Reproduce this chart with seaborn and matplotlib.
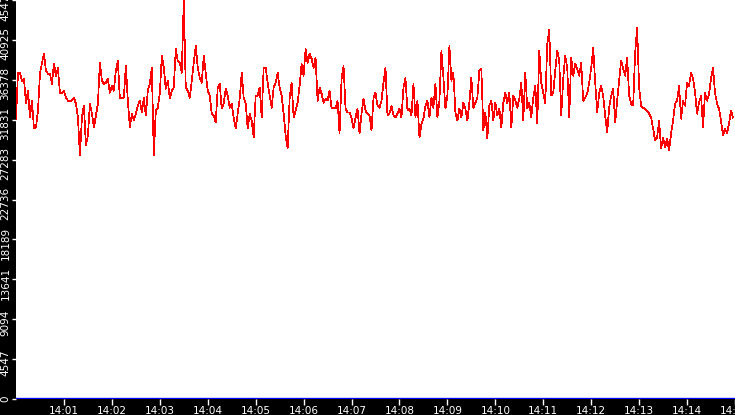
import numpy as np
import pandas as pd
import seaborn as sns
import matplotlib
matplotlib.use('Agg')
import matplotlib.pyplot as plt
import matplotlib.transforms as mtransforms

# samples every 2.5 s from 14:00:00
rate = [
    # 14:00 - 14:02:30
    31950, 37180, 37180, 36270, 36500, 33660, 35140, 32070, 34000, 30820,
    30930, 32860, 37070, 38320, 39340, 37410, 37070, 37070, 35930, 38210,
    36840, 37750, 34800, 34910, 35140, 34340, 34000, 34000, 34000, 34340,
    33660, 32070, 27750, 32070, 33430, 28880, 30020, 33660, 32520, 30930,
    32300, 33660, 38320, 36270, 35930, 36050, 36500, 34910, 35700, 35140,
    37410, 38550, 34230, 34340, 34340, 37980, 34000, 30930, 32520, 31730,
    32520, 33430,
    # 14:02:35 - 14:05:05
    34000, 32640, 34340, 32300, 35140, 35930, 37750, 27750, 32860, 33200,
    34800, 39120, 37750, 35360, 36270, 34230, 35140, 35480, 39910, 38550,
    38320, 37180, 45473, 35480, 35140, 34340, 36270, 38320, 40250, 37750,
    36610, 36050, 39120, 37180, 35140, 34570, 32520, 32300, 31500, 35480,
    35930, 33090, 33660, 35360, 34570, 33200, 33660, 32070, 30820, 32520,
    34230, 37180, 34340, 33660, 30820, 32520, 31730, 29790, 34570, 34570,
    35480, 32070, 37750,
    # 14:05:07 - 14:07:37
    37750, 36050, 34570, 33200, 35480, 36050, 37180, 35480, 34570, 32520,
    30020, 28540, 34230, 36050, 32070, 32860, 33770, 35700, 38210, 36840,
    39910, 38320, 39340, 38780, 37750, 38890, 34000, 35480, 34800, 33770,
    34230, 34000, 35140, 33090, 33200, 33090, 34000, 30250, 36500, 37980,
    33090, 32640, 32640, 32070, 30820, 32070, 33090, 30250, 32520, 34230,
    32860, 32520, 32300, 30590, 34340, 34910, 33430, 33200, 34000, 36050,
    37750,
    # 14:07:40 - 14:10:12
    32300, 32520, 33430, 32300, 32070, 32520, 33090, 32070, 35480, 36610,
    32860, 33090, 32300, 35930, 32070, 34000, 29790, 31390, 31950, 33430,
    34000, 32070, 34340, 33200, 35930, 32070, 34000, 39690, 36610, 33090,
    34570, 40250, 36270, 37180, 32640, 31730, 33090, 32070, 33770, 33090,
    31730, 33770, 36610, 33200, 33770, 34340, 37410, 37640, 30590, 32640,
    29680, 33430, 34000, 31730, 33770, 32300, 33090, 30930, 33770, 34910,
    33660, 34910,
    # 14:10:15 - 14:12:52
    30930, 34570, 34000, 33200, 34230, 36050, 31730, 37180, 33090, 33770,
    32070, 34340, 35700, 31390, 39690, 36050, 34910, 33660, 40480, 42070,
    34570, 34910, 37410, 39690, 38550, 32300, 36500, 39120, 37750, 32070,
    38890, 36840, 38210, 37640, 36840, 38320, 34000, 34340, 34800, 36050,
    37750, 40030, 36050, 32640, 34910, 35700, 34570, 32300, 30360, 33200,
    34570, 35360, 31500, 34000, 36270, 38550, 37640, 36840, 38890, 34570,
    33660, 33430, 39460, 42300,
    # 14:12:55 - 14:14:57
    35480, 33430, 33200, 33090, 32860, 32520, 32070, 30820, 29450, 29790,
    31730, 28540, 29790, 28660, 29680, 28320, 30250, 31730, 33660, 34000,
    35700, 31950, 34000, 33430, 36050, 35700, 37180, 36500, 34910, 32520,
    33770, 34570, 30930, 34910, 34000, 34800, 36500, 37750, 34910, 33660,
    33090, 31730, 30020, 30820, 30250, 31390, 32860, 32070,
]
baseline = [0] * len(rate)

y_ticks = [0, 4547, 9094, 13641, 18189, 22736, 27283, 31831, 36378, 40925, 45473]
y_labels = ['0', '4547', '9094', '13641', '18189', '22736', '27283',
            '31831', '36378', '40925', '45473']
x_ticks = pd.date_range('2024-01-01 14:01:00', '2024-01-01 14:15:00', freq='1min')
x_labels = [t.strftime('%H:%M') for t in x_ticks]

times = pd.date_range('2024-01-01 14:00:00', periods=len(rate), freq='2500ms')
df = pd.DataFrame({'time': times, 'rate': rate, 'base': baseline})

fig = plt.figure(figsize=(7.35, 4.15), dpi=100, facecolor='black')
ax = fig.add_axes([16 / 735, 16 / 415, 719 / 735, 399 / 415])
ax.set_facecolor('white')

sns.lineplot(data=df, x='time', y='base', ax=ax, color='#0000ff', lw=2.4, estimator=None)
sns.lineplot(data=df, x='time', y='rate', ax=ax, color='#ff0000', lw=0.5,
             estimator=None, antialiased=False)

ax.set_xlim(pd.Timestamp('2024-01-01 14:00:00'), pd.Timestamp('2024-01-01 14:15:00'))
ax.set_ylim(0, 45473)
ax.set_xticks(x_ticks, labels=x_labels)
ax.set_yticks(y_ticks, labels=y_labels, rotation=90, va='center')
ax.set_xlabel('')
ax.set_ylabel('')
for s in ax.spines.values():
    s.set_visible(False)

ax.tick_params(axis='both', colors='white', labelsize=7.5, width=1, direction='out')
ax.tick_params(axis='x', length=4, pad=1)
ax.tick_params(axis='y', length=3, pad=1)

# y labels sit a little below their ticks in the original
shift = mtransforms.ScaledTranslation(0, -4 / 100, fig.dpi_scale_trans)
for lab in ax.get_yticklabels()[1:]:
    lab.set_transform(lab.get_transform() + shift)

fig.savefig('out.png', dpi=100, facecolor='black')
